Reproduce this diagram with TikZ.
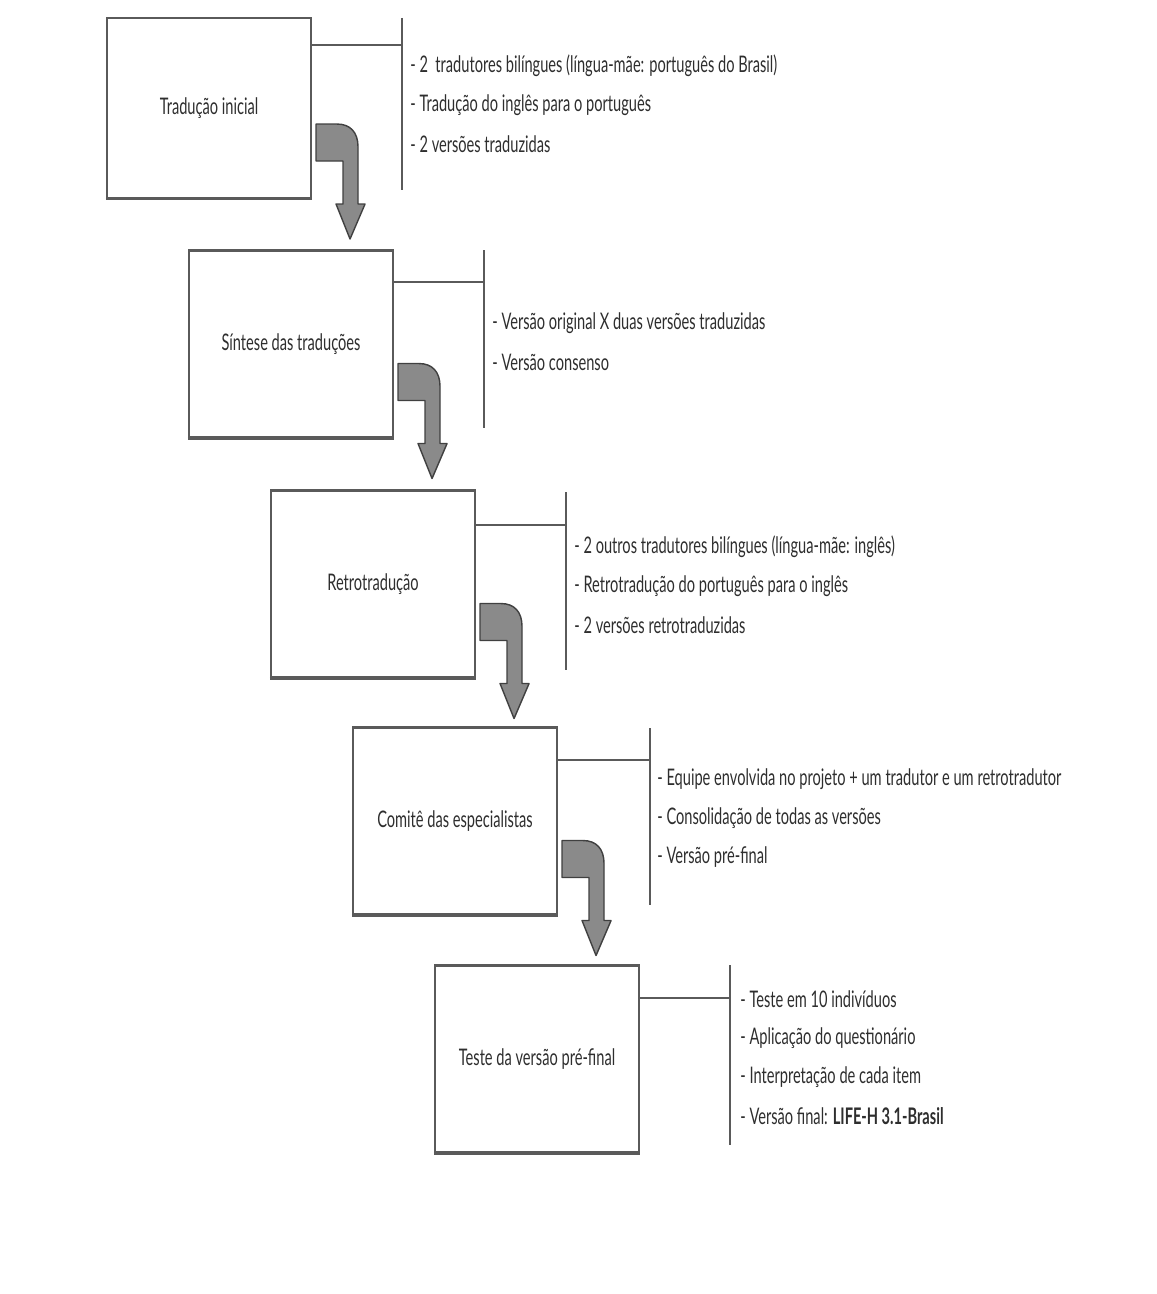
\documentclass[tikz,border=0pt]{standalone}
\usepackage{fontspec}
\setmainfont[FakeStretch=0.64]{Lato}
\usetikzlibrary{positioning}
\definecolor{textgray}{HTML}{2E2E2E}
\definecolor{linegray}{HTML}{5A5A5A}
\definecolor{arrowgray}{HTML}{8A8A8A}
\definecolor{edgegray}{HTML}{404040}

\begin{document}
\begin{tikzpicture}[x=0.02cm,y=-0.02cm]
\tikzstyle{every node}=[inner sep=0pt, text=textgray, font=\fontsize{13}{15}\selectfont]
\tikzstyle{box}=[draw=linegray, line width=1.2pt, minimum width=4.08cm, minimum height=3.74cm]
\tikzstyle{item}=[anchor=west]
\tikzstyle{link}=[draw=linegray, line width=1.6pt]
\tikzstyle{rule}=[draw=linegray, line width=1pt]
\tikzstyle{bent}=[fill=arrowgray, draw=edgegray, line width=0.8pt, line join=round]
\useasboundingbox (0,0) rectangle (1156,1294);

% etapas
\draw (209,108) node (b1) [box, minimum height=3.6cm] {Tradução inicial};
\draw (291,344) node (b2) [box] {Síntese das traduções};
\draw (373,584) node (b3) [box] {Retrotradução};
\draw (455,821) node (b4) [box] {Comitê das especialistas};
\draw (537,1059) node (b5) [box] {Teste da versão pré-final};

% sombra inferior das caixas
\draw[link] (b1.south west) -- (b1.south east);
\draw[link] (b2.south west) -- (b2.south east);
\draw[link] (b3.south west) -- (b3.south east);
\draw[link] (b4.south west) -- (b4.south east);
\draw[link] (b5.south west) -- (b5.south east);

% chaves
\coordinate (v1) at (402,18); \coordinate (w1) at (402,190); \coordinate (h1) at (402,45);
\coordinate (v2) at (484,250); \coordinate (w2) at (484,428); \coordinate (h2) at (484,282);
\coordinate (v3) at (566,492); \coordinate (w3) at (566,670); \coordinate (h3) at (566,525);
\coordinate (v4) at (650,728); \coordinate (w4) at (650,905); \coordinate (h4) at (650,760);
\coordinate (v5) at (730,965); \coordinate (w5) at (730,1145); \coordinate (h5) at (730,998);
\draw[rule] (v1) -- (w1);
\draw[rule] (v2) -- (w2);
\draw[rule] (v3) -- (w3);
\draw[rule] (v4) -- (w4);
\draw[rule] (v5) -- (w5);
\draw[link] (b1.east |- h1) -- (h1);
\draw[link] (b2.east |- h2) -- (h2);
\draw[link] (b3.east |- h3) -- (h3);
\draw[link] (b4.east |- h4) -- (h4);
\draw[link] (b5.east |- h5) -- (h5);

% setas
\draw[bent, shift={(b1.south east)}] (4,-75) -- (25,-75) .. controls (38,-75) and (46,-67) .. (46,-52) -- (46,5) -- (53,5) -- (38,40) -- (24,5) -- (31,5) -- (31,-38) -- (4,-38) -- cycle;
\draw[bent, shift={(b2.south east)}] (4,-75) -- (25,-75) .. controls (38,-75) and (46,-67) .. (46,-52) -- (46,5) -- (53,5) -- (38,40) -- (24,5) -- (31,5) -- (31,-38) -- (4,-38) -- cycle;
\draw[bent, shift={(b3.south east)}] (4,-75) -- (25,-75) .. controls (38,-75) and (46,-67) .. (46,-52) -- (46,5) -- (53,5) -- (38,40) -- (24,5) -- (31,5) -- (31,-38) -- (4,-38) -- cycle;
\draw[bent, shift={(b4.south east)}] (4,-75) -- (25,-75) .. controls (38,-75) and (46,-67) .. (46,-52) -- (46,5) -- (53,5) -- (38,40) -- (24,5) -- (31,5) -- (31,-38) -- (4,-38) -- cycle;

% descricoes
\node (t11) [item] at (410,66) {- 2\ \ tradutores bilíngues (língua-mãe: português do Brasil)};
\node (t12) [below=0.78cm of t11.west, item] {- Tradução do inglês para o português};
\node (t13) [below=0.78cm of t12.west, item] {- 2 versões traduzidas};

\node (t21) [item] at (492,323) {- Versão original X duas versões traduzidas};
\node (t22) [below=0.78cm of t21.west, item] {- Versão consenso};

\node (t31) [item] at (574,547) {- 2 outros tradutores bilíngues (língua-mãe: inglês)};
\node (t32) [below=0.78cm of t31.west, item] {- Retrotradução do português para o inglês};
\node (t33) [below=0.78cm of t32.west, item] {- 2 versões retrotraduzidas};

\node (t41) [item] at (657,779) {- Equipe envolvida no projeto + um tradutor e um retrotradutor};
\node (t42) [below=0.78cm of t41.west, item] {- Consolidação de todas as versões};
\node (t43) [below=0.78cm of t42.west, item] {- Versão pré-final};

\node (t51) [item] at (740,999) {- Teste em 10 indivíduos};
\node (t52) [below=0.78cm of t51.west, item] {- Aplicação do questionário};
\node (t53) [below=0.78cm of t52.west, item] {- Interpretação de cada item};
\node (t54) [below=0.78cm of t53.west, item] {- Versão final: \textbf{LIFE-H 3.1-Brasil}};
\end{tikzpicture}
\end{document}
